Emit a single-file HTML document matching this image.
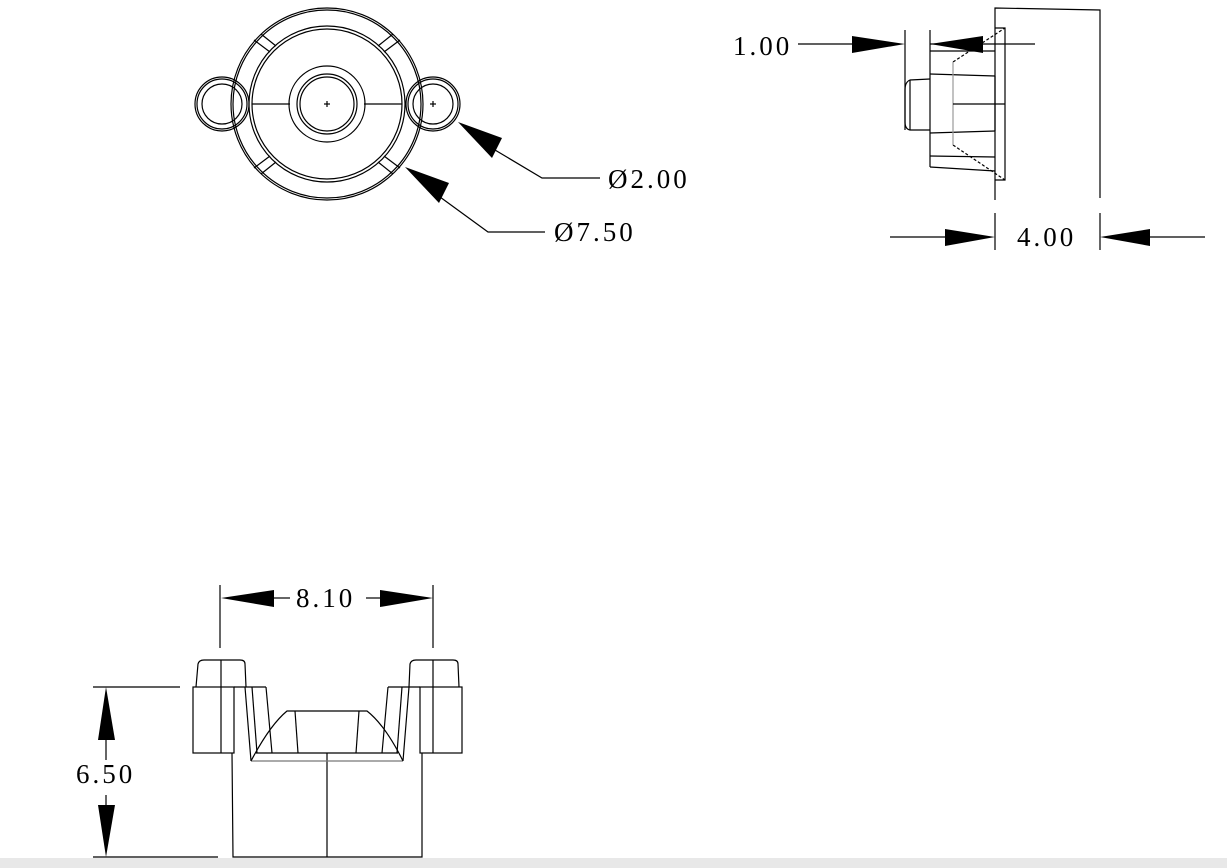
<!DOCTYPE html>
<html><head><style>
html,body{margin:0;padding:0;background:#fff;}
svg{display:block}
text{font-family:"Liberation Serif","Noto Serif CJK SC",serif;font-size:27px;fill:#000;letter-spacing:3px}
</style></head><body>
<svg width="1227" height="868" viewBox="0 0 1227 868" xmlns="http://www.w3.org/2000/svg">
<rect x="0" y="858" width="1227" height="10" fill="#e8e8e8"/>
<g fill="none" stroke="#000" stroke-width="1.2">
<circle cx="327" cy="104" r="96"/>
<circle cx="327" cy="104" r="94"/>
<circle cx="327" cy="104" r="75"/>
<circle cx="327" cy="104" r="78"/>
<circle cx="327" cy="104" r="38"/>
<circle cx="327" cy="104" r="30"/>
<circle cx="327" cy="104" r="27"/>
<line x1="252" y1="104" x2="290" y2="104"/>
<line x1="364" y1="104" x2="402" y2="104"/>
<line x1="324" y1="104" x2="330" y2="104"/><line x1="327" y1="101" x2="327" y2="107"/>
<circle cx="222" cy="104" r="27"/><circle cx="222" cy="104" r="25"/><circle cx="222" cy="104" r="20"/>
<circle cx="433" cy="104" r="27"/><circle cx="433" cy="104" r="25"/><circle cx="433" cy="104" r="20"/>
<line x1="430" y1="104" x2="436" y2="104"/><line x1="433" y1="101" x2="433" y2="107"/>
<line x1="254" y1="40" x2="270" y2="52"/><line x1="261" y1="34" x2="276" y2="46"/>
<line x1="400" y1="40" x2="384" y2="52"/><line x1="393" y1="34" x2="378" y2="46"/>
<line x1="254" y1="168" x2="270" y2="156"/><line x1="261" y1="174" x2="276" y2="162"/>
<line x1="400" y1="168" x2="384" y2="156"/><line x1="393" y1="174" x2="378" y2="162"/>
<polyline points="495,150 542,178 600,178"/>
<polyline points="440,197 488,232 545,232"/>
<polyline points="995,200 995,8 1100,10 1100,198"/>
<polyline points="995,28 1005,28 1005,180 995,180"/>
<line x1="905" y1="30" x2="905" y2="130"/>
<line x1="930" y1="30" x2="930" y2="167"/>
<path d="M930,79 L910,80 Q905,82 905,90 L905,122 Q905,129 910,130 L930,130"/>
<line x1="910" y1="80" x2="910" y2="130"/>
<line x1="930" y1="74" x2="995" y2="76"/><line x1="930" y1="133" x2="995" y2="131"/>
<line x1="995" y1="76" x2="995" y2="131"/>
<line x1="930" y1="51" x2="995" y2="51"/><line x1="930" y1="156" x2="995" y2="157"/>
<line x1="930" y1="167" x2="995" y2="171"/>
<line x1="953" y1="62" x2="1005" y2="28" stroke-dasharray="3,2"/>
<line x1="953" y1="145" x2="1005" y2="180" stroke-dasharray="3,2"/>
<line x1="953" y1="62" x2="953" y2="145" stroke="#999"/>
<line x1="953" y1="104" x2="1005" y2="104"/>
<line x1="798" y1="44" x2="852" y2="44"/>
<line x1="930" y1="44" x2="1035" y2="44"/>
<line x1="890" y1="237" x2="945" y2="237"/>
<line x1="1150" y1="237" x2="1205" y2="237"/>
<line x1="995" y1="213" x2="995" y2="250"/>
<line x1="1100" y1="213" x2="1100" y2="250"/>
<rect x="193" y="687" width="41" height="66"/>
<rect x="420" y="687" width="42" height="66"/>
<path d="M196,687 L198,664 Q199,660 204,660 L240,660 Q245,660 245,664 L246,687"/>
<path d="M409,687 L410,664 Q411,660 416,660 L453,660 Q458,660 458,664 L459,687"/>
<line x1="221" y1="660" x2="221" y2="753"/>
<line x1="433" y1="660" x2="433" y2="753"/>
<polyline points="232,753 233,857 422,857 422,753"/>
<line x1="327" y1="753" x2="327" y2="857"/>
<line x1="234" y1="687" x2="266" y2="687"/><line x1="388" y1="687" x2="420" y2="687"/>
<line x1="245" y1="687" x2="251" y2="761"/><line x1="252" y1="687" x2="257" y2="753"/>
<line x1="266" y1="687" x2="272" y2="753"/>
<line x1="409" y1="687" x2="403" y2="761"/><line x1="402" y1="687" x2="397" y2="753"/>
<line x1="388" y1="687" x2="382" y2="753"/>
<line x1="251" y1="761" x2="403" y2="761" stroke="#777"/>
<line x1="256" y1="753" x2="398" y2="753"/>
<path d="M251,761 Q270,725 287,711 L367,711 Q385,725 403,761"/>
<line x1="295" y1="711" x2="298" y2="753"/><line x1="359" y1="711" x2="356" y2="753"/>
<line x1="220" y1="585" x2="220" y2="648"/>
<line x1="433" y1="585" x2="433" y2="648"/>
<line x1="274" y1="598" x2="290" y2="598"/><line x1="366" y1="598" x2="380" y2="598"/>
<line x1="93" y1="687" x2="180" y2="687"/>
<line x1="93" y1="857" x2="218" y2="857"/>
<line x1="106" y1="740" x2="106" y2="760"/><line x1="106" y1="795" x2="106" y2="805"/>
</g>
<g fill="#000">
<polygon points="458,122 502,138 492,158"/>
<polygon points="405,167 449,183 439,203"/>
<polygon points="852,36 905,44 852,53"/>
<polygon points="983,36 930,44 983,53"/>
<polygon points="945,229 995,237 945,246"/>
<polygon points="1150,229 1100,237 1150,246"/>
<polygon points="274,590 221,598 274,607"/>
<polygon points="380,590 433,598 380,607"/>
<polygon points="98,740 106,687 115,740"/>
<polygon points="98,805 106,857 115,805"/>
</g>
<text x="733" y="55">1.00</text>
<text x="1017" y="246">4.00</text>
<text x="608" y="188">Ø2.00</text>
<text x="554" y="241">Ø7.50</text>
<text x="296" y="607">8.10</text>
<text x="76" y="783">6.50</text>
</svg>
</body></html>
